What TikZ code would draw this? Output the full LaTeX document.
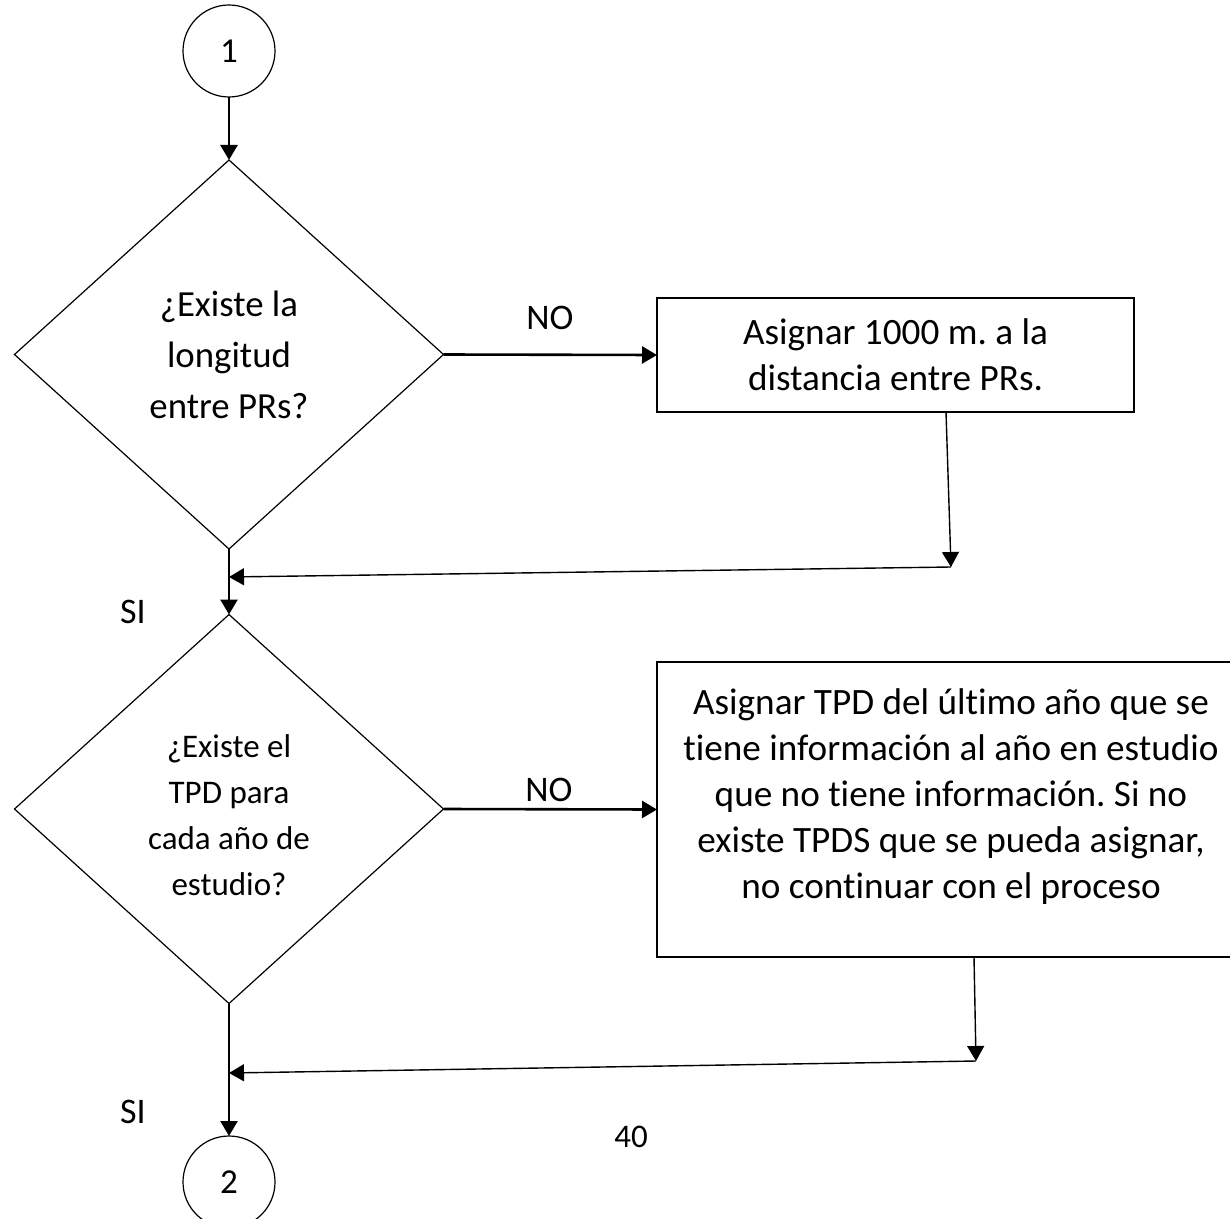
\documentclass[tikz,border=0pt]{standalone}
\usepackage{fontspec}
\setmainfont{Carlito}[Ligatures=CommonOff]
\usetikzlibrary{arrows.meta,positioning,shapes.geometric}
\frenchspacing
\tikzset{
  pagebadge/.style={
    draw, circle, line width=0.6pt,
    inner sep=0pt, outer sep=0pt, minimum size=46pt,
    font=\fontsize{17.5}{20}\selectfont
  },
  decision/.style={
    draw, diamond, line width=0.6pt, inner sep=0pt, outer sep=0pt,
    minimum width=214.5pt, minimum height=194.5pt, align=center
  },
  taskcard/.style={
    draw, rectangle, line width=0.6pt, inner sep=0pt, outer sep=0pt,
    align=center, font=\fontsize{18.6}{23}\selectfont
  },
  tasktext/.style={align=center, inner sep=0pt, font=\fontsize{18.6}{23}\selectfont},
  asktext/.style={align=center, inner sep=0pt, font=\fontsize{16.5}{23}\selectfont},
  flowlabel/.style={font=\fontsize{18}{21}\selectfont},
  flowarrow/.style={line width=1.3pt, -{Triangle[length=7.5pt,width=8.5pt]}},
  backarrow/.style={line width=0.7pt, -{Triangle[length=7.5pt,width=8.5pt]}}
}
\begin{document}
\begin{tikzpicture}[x=0.5pt,y=-0.5pt]
  \useasboundingbox (0,0) rectangle (1230,1219);
  % shapes
  \node[pagebadge] (start) at (229,51) {1};
  \node[decision, font=\fontsize{18.4}{25.5}\selectfont] (q1) at (229,354.5)
    {¿Existe la\\longitud\\entre PRs?};
  \node[taskcard, minimum width=238.5pt, minimum height=57pt] (box1) at (895.5,355)
    {Asignar 1000 m. a la\\distancia entre PRs.};
  \node[decision, label={[asktext, yshift=-3pt]center:{¿Existe el\\TPD para\\cada año de\\estudio?}}]
    (q2) at (229,809) {};
  \node[taskcard, minimum width=294pt, minimum height=147.5pt,
    label={[tasktext, yshift=6.25pt]center:{Asignar TPD del último año que se\\tiene información al año en estudio\\que no tiene información. Si no\\existe TPDS que se pueda asignar,\\no continuar con el proceso}}]
    (box2) at (951,809.5) {};
  \node[pagebadge] (stop) at (229,1182) {2};
  % main flow
  \draw[flowarrow] (start) -- (q1);
  \draw[flowarrow] (q1.east) -- (box1.west);
  \draw[flowarrow] (q1.south) -- (q2.north);
  \draw[flowarrow] (q2.east) -- (box2.west);
  \draw[flowarrow] (q2.south) -- (stop.north);
  % return lines
  \coordinate (r1x) at (946,0);
  \coordinate (r1b) at (951,567);
  \coordinate (j1) at (229,577);
  \draw[backarrow] (box1.south -| r1x) -- (r1b);
  \draw[backarrow] (r1b) -- (j1);
  \coordinate (r2x) at (974,0);
  \coordinate (r2b) at (976,1061);
  \coordinate (j2) at (229,1073);
  \draw[backarrow] (box2.south -| r2x) -- (r2b);
  \draw[backarrow] (r2b) -- (j2);
  % labels
  \node[flowlabel] (no1) at (550,318) {NO};
  \node[flowlabel] (no2) at (549,790) {NO};
  \node[flowlabel] (si1) at (133,612) {SI};
  \node[flowlabel] (si2) at (133,1112) {SI};
  \node[flowlabel, font=\fontsize{16.5}{20}\selectfont] (pagenum) at (631,1137) {40};
\end{tikzpicture}
\end{document}
